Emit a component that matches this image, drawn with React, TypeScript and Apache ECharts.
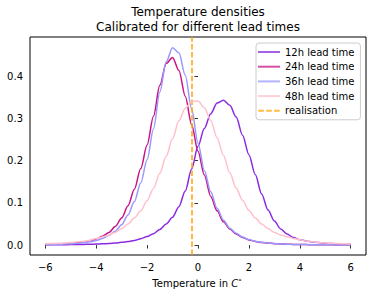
import React, { useEffect, useRef } from "react";
import * as echarts from "echarts";

const xs = [
  -6, -5.75, -5.5, -5.25, -5, -4.75, -4.5, -4.25, -4, -3.75, -3.5, -3.25, -3,
  -2.75, -2.5, -2.25, -2, -1.75, -1.5, -1.25, -1, -0.75, -0.5, -0.25, 0,
  0.25, 0.5, 0.75, 1, 1.25, 1.5, 1.75, 2, 2.25, 2.5, 2.75, 3, 3.25, 3.5,
  3.75, 4, 4.25, 4.5, 4.75, 5, 5.25, 5.5, 5.75, 6,
];

const lead12h = [
  0.0006, 0.0007, 0.0008, 0.0009, 0.0011, 0.0013, 0.0016, 0.0019, 0.0024, 0.003, 0.0038, 0.0049, 0.0064,
  0.0084, 0.011, 0.015, 0.02, 0.027, 0.037, 0.05, 0.066, 0.091, 0.128, 0.18, 0.234,
  0.276, 0.311, 0.336, 0.343, 0.331, 0.303, 0.26, 0.214, 0.167, 0.121, 0.083, 0.057, 0.038, 0.026,
  0.018, 0.0128, 0.0098, 0.0074, 0.0058, 0.0045, 0.0035, 0.0028, 0.0022, 0.0018,
];

const lead24h = [
  0.0014, 0.0017, 0.0022, 0.003, 0.0038, 0.0053, 0.0071, 0.01, 0.0142, 0.0207, 0.03, 0.044, 0.064,
  0.093, 0.132, 0.181, 0.237, 0.305, 0.378, 0.43, 0.444, 0.413, 0.352, 0.285, 0.222,
  0.166, 0.115, 0.081, 0.055, 0.038, 0.026, 0.018, 0.0122, 0.0087, 0.0063, 0.0048, 0.0034, 0.0027, 0.002,
  0.0016, 0.0013, 0.0011, 0.0009, 0.0007, 0.0006, 0.0005, 0.0004, 0.0004, 0.0003,
];

const lead36h = [
  0.0011, 0.0014, 0.0018, 0.0024, 0.0031, 0.0041, 0.0056, 0.0077, 0.0108, 0.0155, 0.023, 0.033, 0.048,
  0.071, 0.103, 0.147, 0.202, 0.275, 0.362, 0.434, 0.467, 0.455, 0.402, 0.322, 0.241,
  0.176, 0.126, 0.087, 0.059, 0.04, 0.028, 0.019, 0.013, 0.0093, 0.0066, 0.005, 0.0036, 0.0028, 0.0021,
  0.0016, 0.0013, 0.0011, 0.0009, 0.0007, 0.0006, 0.0005, 0.0004, 0.0004, 0.0003,
];

const lead48h = [
  0.0029, 0.0035, 0.0042, 0.005, 0.0062, 0.0076, 0.0092, 0.0117, 0.0155, 0.0193, 0.024, 0.03, 0.039,
  0.05, 0.064, 0.081, 0.105, 0.134, 0.17, 0.21, 0.252, 0.294, 0.324, 0.34, 0.341,
  0.325, 0.295, 0.254, 0.212, 0.171, 0.135, 0.106, 0.082, 0.064, 0.05, 0.039, 0.03, 0.024, 0.0195,
  0.0158, 0.0128, 0.0095, 0.0077, 0.0062, 0.005, 0.0042, 0.0035, 0.0029, 0.0025,
];

const realisation = -0.25;

const seriesNames = ["12h lead time", "24h lead time", "36h lead time", "48h lead time"];
const realisationName = "realisation";
const xTicks = [-6, -4, -2, 0, 2, 4, 6];
const yTicks = [0, 0.1, 0.2, 0.3, 0.4];

export default function App() {
  const ref = useRef<HTMLDivElement>(null);

  useEffect(() => {
    if (!ref.current) return;
    const chart = echarts.init(ref.current, null, { renderer: "svg" });
    const font = "DejaVu Sans";
    const colors = ["#8a2be2", "#c71585", "#9999ff", "#ffc0cb"];
    const curves = [lead12h, lead24h, lead36h, lead48h];
    const fmtX = (v: number) => (v < 0 ? "\u2212" + Math.abs(v) : String(v));
    const dash = [5.5, 2.4];
    const solidIcon = "path://M0,0H22V2H0Z";
    const dashIcon = "path://M0,0H5.5V2H0Z M7.9,0H13.4V2H7.9Z M15.8,0H21.3V2H15.8Z";

    const lineSeries = curves.map((ys, i) => ({
      name: seriesNames[i],
      type: "line",
      data: xs.map((x, j) => [x, ys[j]]),
      symbol: "none",
      smooth: 0.3,
      smoothMonotone: "x",
      lineStyle: { color: colors[i], width: 1.5 },
      itemStyle: { color: colors[i] },
      z: 2 + i,
    }));

    chart.setOption({
      animation: false,
      backgroundColor: "#ffffff",
      grid: {
        left: 30,
        right: 6,
        top: 37,
        bottom: 44,
        show: true,
        borderColor: "#000",
        borderWidth: 1,
        backgroundColor: "transparent",
      },
      xAxis: {
        type: "value",
        min: -6.6,
        max: 6.6,
        splitLine: { show: false },
        axisLine: { show: false },
        axisTick: {
          show: true,
          inside: false,
          length: 3.5,
          customValues: xTicks,
          lineStyle: { color: "#000", width: 0.8 },
        },
        axisLabel: {
          customValues: xTicks,
          formatter: fmtX,
          margin: 7,
          color: "#000",
          fontSize: 10,
          fontFamily: font,
        },
      },
      yAxis: {
        type: "value",
        min: -0.0235,
        max: 0.4925,
        splitLine: { show: false },
        axisLine: { show: false },
        axisTick: {
          show: true,
          inside: false,
          length: 3.5,
          customValues: yTicks,
          lineStyle: { color: "#000", width: 0.8 },
        },
        axisLabel: {
          customValues: yTicks,
          formatter: (v: number) => v.toFixed(1),
          margin: 7,
          color: "#000",
          fontSize: 10,
          fontFamily: font,
        },
      },
      legend: {
        orient: "vertical",
        left: 256,
        top: 43,
        itemWidth: 22,
        itemHeight: 2,
        itemGap: 2.7,
        padding: [3, 6, 3, 2],
        backgroundColor: "rgba(255,255,255,0.8)",
        borderColor: "#cccccc",
        borderWidth: 1,
        borderRadius: 3,
        itemStyle: { opacity: 0.75 },
        textStyle: { fontSize: 10, fontFamily: font, color: "#000", lineHeight: 12 },
        data: [
          ...seriesNames.map((n) => ({ name: n, icon: solidIcon })),
          { name: realisationName, icon: dashIcon },
        ],
      },
      graphic: [
        {
          type: "text",
          x: 198,
          y: 5,
          style: {
            text: "Temperature densities\nCalibrated for different lead times",
            align: "center",
            verticalAlign: "top",
            fontSize: 12,
            lineHeight: 14.5,
            fontFamily: font,
            fill: "#000",
          },
        },
        {
          type: "text",
          x: 197,
          y: 283,
          style: {
            text: "Temperature in {i|C}{s|°}",
            align: "center",
            verticalAlign: "middle",
            fontSize: 10,
            fontFamily: font,
            fill: "#000",
            rich: {
              i: { fontSize: 10, fontStyle: "italic", fontFamily: font, fill: "#000" },
              s: { fontSize: 7, fontFamily: font, fill: "#000", verticalAlign: "top" },
            },
          },
        },
      ],
      series: [
        ...lineSeries,
        {
          name: realisationName,
          type: "line",
          data: [],
          symbol: "none",
          lineStyle: { color: "#ffa500", width: 1.5, type: dash },
          itemStyle: { color: "#ffa500" },
          z: 10,
          markLine: {
            silent: true,
            symbol: ["none", "none"],
            label: { show: false },
            lineStyle: { color: "#ffa500", width: 1.5, type: dash },
            data: [{ xAxis: realisation }],
          },
        },
      ],
    });

    return () => chart.dispose();
  }, []);

  return (
    <div
      ref={ref}
      style={{ position: "fixed", left: 0, top: 0, width: 372, height: 299, background: "#fff" }}
    />
  );
}
